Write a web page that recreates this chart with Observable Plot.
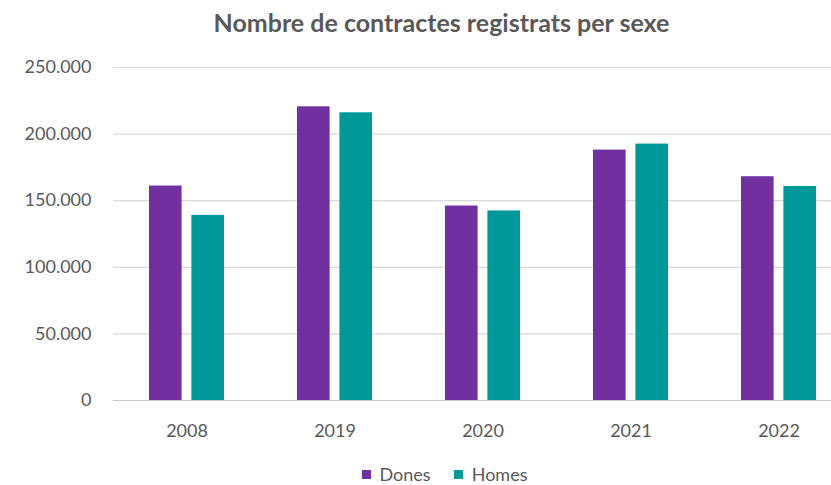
<!DOCTYPE html>
<html>
<head>
<meta charset="utf-8">
<script src="https://cdn.jsdelivr.net/npm/d3@7"></script>
<script src="https://cdn.jsdelivr.net/npm/@observablehq/plot@0.6"></script>
<style>
  html, body { margin: 0; padding: 0; background: #fff; overflow: hidden; }
  body { width: 831px; height: 485px; font-family: Lato, "Open Sans", sans-serif; color: #595959; }
  #title { height: 45px; line-height: 45px; text-align: center; font-weight: bold; font-size: 25px; padding-left: 52px; box-sizing: border-box; }
  #legend { height: 30px; display: flex; justify-content: center; align-items: flex-start; font-size: 18px; line-height: normal; gap: 23px; padding-left: 58px; padding-top: 8px; box-sizing: border-box; }
  .item { display: flex; align-items: center; gap: 9px; }
  .sw { width: 9px; height: 9px; display: inline-block; }
  svg { display: block; }
</style>
</head>
<body>
<div id="title">Nombre de contractes registrats per sexe</div>
<div id="chart"></div>
<div id="legend"></div>
<script>
const years = ["2008", "2019", "2020", "2021", "2022"];
const series = ["Dones", "Homes"];
const dones = [161000, 220500, 146000, 188000, 168000];
const homes = [139000, 216000, 142300, 192500, 160700];
const colors = ["#7030A0", "#009999"];
const yTicks = [0, 50000, 100000, 150000, 200000, 250000];

const data = years.flatMap((y, i) => [
  {year: y, sexe: series[0], value: dones[i]},
  {year: y, sexe: series[1], value: homes[i]}
]);

const fmt = d => d3.format(",")(d).replace(/,/g, ".");

const chart = Plot.plot({
  width: 831,
  height: 410,
  marginLeft: 113,
  marginRight: 0,
  marginTop: 22,
  marginBottom: 55,
  style: {fontFamily: "Lato, 'Open Sans', sans-serif", fontSize: "18px", color: "#595959", background: "#fff"},
  x: {domain: years, range: [113, 853], paddingInner: 0.493, paddingOuter: 0.2465, label: null},
  y: {domain: [0, 250000], label: null},
  color: {domain: series, range: colors},
  marks: [
    Plot.ruleY(yTicks.filter(d => d > 0), {stroke: "#D9D9D9", strokeWidth: 1.2}),
    Plot.barY(data.filter(d => d.sexe === series[0]), {x: "year", y: "value", fill: "sexe", insetRight: 42.4}),
    Plot.barY(data.filter(d => d.sexe === series[1]), {x: "year", y: "value", fill: "sexe", insetLeft: 42.4}),
    Plot.ruleY([0], {stroke: "#C8C8C8", strokeWidth: 1.2}),
    Plot.axisY({ticks: yTicks, tickSize: 0, tickPadding: 22, tickFormat: fmt, label: null}),
    Plot.axisX({tickSize: 0, tickPadding: 24, label: null})
  ]
});
document.getElementById("chart").appendChild(chart);

const legend = document.getElementById("legend");
series.forEach((s, i) => {
  const item = document.createElement("span");
  item.className = "item";
  const sw = document.createElement("span");
  sw.className = "sw";
  sw.style.background = colors[i];
  item.appendChild(sw);
  item.appendChild(document.createTextNode(s));
  legend.appendChild(item);
});
</script>
</body>
</html>
